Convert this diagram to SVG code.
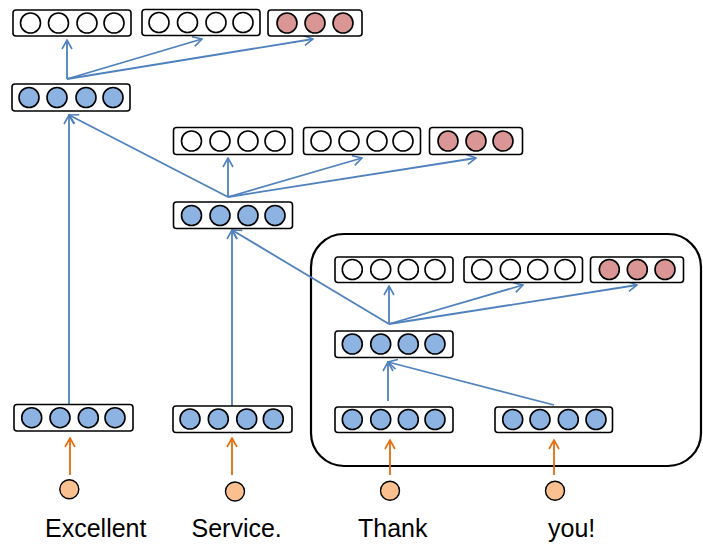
<svg xmlns="http://www.w3.org/2000/svg" width="703" height="544" viewBox="0 0 703 544">
<defs>
<style>
.box{fill:#fff;stroke:#000;stroke-width:1.6}
.w{fill:#fff;stroke:#000;stroke-width:1.6}
.b{fill:#8DB3E2;stroke:#000;stroke-width:1.6}
.r{fill:#D99694;stroke:#000;stroke-width:1.6}
.o{fill:#FAC090;stroke:#000;stroke-width:1.4}
.bl{stroke:#4F81BD;stroke-width:1.8;fill:none;marker-end:url(#ab)}
.ol{stroke:#E46C0A;stroke-width:1.8;fill:none;marker-end:url(#ao)}
.t{font-family:"Liberation Sans",Arial,sans-serif;font-size:25px;fill:#000}
</style>
<marker id="ab" viewBox="0 0 12 12" refX="11" refY="6" markerWidth="12" markerHeight="12" markerUnits="userSpaceOnUse" orient="auto">
<path d="M2,1 L11,6 L2,11" fill="none" stroke="#4F81BD" stroke-width="1.6"/>
</marker>
<marker id="ao" viewBox="0 0 12 12" refX="11" refY="6" markerWidth="12" markerHeight="12" markerUnits="userSpaceOnUse" orient="auto">
<path d="M2,1 L11,6 L2,11" fill="none" stroke="#E46C0A" stroke-width="1.6"/>
</marker>
</defs>
<rect width="703" height="544" fill="#fff"/>

<g id="group-frame">
<rect x="311" y="234" width="390" height="232" rx="33" ry="33" fill="none" stroke="#000" stroke-width="2.2"/>
</g>

<g id="connectors">
<line class="bl" x1="69" y1="404" x2="69" y2="115"/>
<line class="bl" x1="228" y1="197" x2="69" y2="115"/>
<line class="bl" x1="67" y1="79" x2="67" y2="40"/>
<line class="bl" x1="67" y1="79" x2="202" y2="39"/>
<line class="bl" x1="67" y1="79" x2="313" y2="39"/>
<line class="bl" x1="232" y1="406" x2="232" y2="230"/>
<line class="bl" x1="389" y1="324" x2="232" y2="230"/>
<line class="bl" x1="228" y1="197" x2="228" y2="158"/>
<line class="bl" x1="228" y1="197" x2="362" y2="158"/>
<line class="bl" x1="228" y1="197" x2="476" y2="158"/>
<line class="bl" x1="389" y1="324" x2="389" y2="286"/>
<line class="bl" x1="389" y1="324" x2="523" y2="285"/>
<line class="bl" x1="389" y1="324" x2="637" y2="285"/>
<line class="bl" x1="388" y1="401" x2="388" y2="362"/>
<line class="bl" x1="554" y1="405" x2="388" y2="362"/>
<line class="ol" x1="70" y1="475" x2="70" y2="438"/>
<line class="ol" x1="232" y1="475" x2="232" y2="438"/>
<line class="ol" x1="390" y1="475" x2="390" y2="440"/>
<line class="ol" x1="554" y1="475" x2="554" y2="440"/>
</g>

<g id="top-out1">
<rect class="box" x="13" y="10" width="118" height="26" rx="3"/>
<circle class="w" cx="30.5" cy="23" r="10"/><circle class="w" cx="58.5" cy="23" r="10"/><circle class="w" cx="87" cy="23" r="10"/><circle class="w" cx="114" cy="23" r="10"/>
</g>
<g id="top-out2">
<rect class="box" x="142" y="9.5" width="118" height="26" rx="3"/>
<circle class="w" cx="159" cy="22.5" r="10"/><circle class="w" cx="187.5" cy="22.5" r="10"/><circle class="w" cx="216" cy="22.5" r="10"/><circle class="w" cx="243" cy="22.5" r="10"/>
</g>
<g id="top-out3">
<rect class="box" x="268" y="10" width="94" height="26" rx="3"/>
<circle class="r" cx="287" cy="23" r="10"/><circle class="r" cx="315" cy="23" r="10"/><circle class="r" cx="343" cy="23" r="10"/>
</g>
<g id="top-hidden">
<rect class="box" x="12" y="84" width="118" height="27" rx="3"/>
<circle class="b" cx="29" cy="97.5" r="10"/><circle class="b" cx="57" cy="97.5" r="10"/><circle class="b" cx="86" cy="97.5" r="10"/><circle class="b" cx="113" cy="97.5" r="10"/>
</g>

<g id="mid-out1">
<rect class="box" x="173.5" y="127.5" width="119" height="27" rx="3"/>
<circle class="w" cx="191.5" cy="141" r="10"/><circle class="w" cx="220" cy="141" r="10"/><circle class="w" cx="248" cy="141" r="10"/><circle class="w" cx="275" cy="141" r="10"/>
</g>
<g id="mid-out2">
<rect class="box" x="303.5" y="127.5" width="117" height="27" rx="3"/>
<circle class="w" cx="321" cy="141" r="10"/><circle class="w" cx="349" cy="141" r="10"/><circle class="w" cx="377" cy="141" r="10"/><circle class="w" cx="403" cy="141" r="10"/>
</g>
<g id="mid-out3">
<rect class="box" x="429.5" y="127.5" width="93" height="27" rx="3"/>
<circle class="r" cx="448" cy="141" r="10"/><circle class="r" cx="476" cy="141" r="10"/><circle class="r" cx="503" cy="141" r="10"/>
</g>
<g id="mid-hidden">
<rect class="box" x="173.5" y="202" width="119" height="26.5" rx="3"/>
<circle class="b" cx="191.5" cy="215.5" r="10"/><circle class="b" cx="220" cy="215.5" r="10"/><circle class="b" cx="248" cy="215.5" r="10"/><circle class="b" cx="275" cy="215.5" r="10"/>
</g>

<g id="grp-out1">
<rect class="box" x="335" y="257" width="118" height="25.5" rx="3"/>
<circle class="w" cx="352.3" cy="269.5" r="10"/><circle class="w" cx="380.7" cy="269.5" r="10"/><circle class="w" cx="408.3" cy="269.5" r="10"/><circle class="w" cx="435" cy="269.5" r="10"/>
</g>
<g id="grp-out2">
<rect class="box" x="464" y="257" width="118.5" height="25.5" rx="3"/>
<circle class="w" cx="481.7" cy="269.5" r="10"/><circle class="w" cx="510.3" cy="269.5" r="10"/><circle class="w" cx="537.7" cy="269.5" r="10"/><circle class="w" cx="565" cy="269.5" r="10"/>
</g>
<g id="grp-out3">
<rect class="box" x="590.5" y="257" width="93" height="25.5" rx="3"/>
<circle class="r" cx="609.3" cy="269.5" r="10"/><circle class="r" cx="637.3" cy="269.5" r="10"/><circle class="r" cx="665" cy="269.5" r="10"/>
</g>
<g id="grp-hidden">
<rect class="box" x="335" y="331" width="118" height="26.5" rx="3"/>
<circle class="b" cx="352.3" cy="344" r="10"/><circle class="b" cx="380.7" cy="344" r="10"/><circle class="b" cx="408.3" cy="344" r="10"/><circle class="b" cx="435" cy="344" r="10"/>
</g>

<g id="leaf-excellent">
<rect class="box" x="14" y="404.5" width="119" height="26.5" rx="3"/>
<circle class="b" cx="31.7" cy="417.7" r="10"/><circle class="b" cx="60" cy="417.7" r="10"/><circle class="b" cx="88.3" cy="417.7" r="10"/><circle class="b" cx="115" cy="417.7" r="10"/>
</g>
<g id="leaf-service">
<rect class="box" x="173" y="406" width="119" height="26.5" rx="3"/>
<circle class="b" cx="190" cy="419" r="10"/><circle class="b" cx="218.3" cy="419" r="10"/><circle class="b" cx="246.7" cy="419" r="10"/><circle class="b" cx="273.3" cy="419" r="10"/>
</g>
<g id="leaf-thank">
<rect class="box" x="335" y="407" width="118" height="25.5" rx="3"/>
<circle class="b" cx="352.3" cy="419.5" r="10"/><circle class="b" cx="380.7" cy="419.5" r="10"/><circle class="b" cx="408.3" cy="419.5" r="10"/><circle class="b" cx="435" cy="419.5" r="10"/>
</g>
<g id="leaf-you">
<rect class="box" x="495" y="407" width="117.5" height="25.5" rx="3"/>
<circle class="b" cx="512.7" cy="419.5" r="10"/><circle class="b" cx="540" cy="419.5" r="10"/><circle class="b" cx="568.3" cy="419.5" r="10"/><circle class="b" cx="596" cy="419.5" r="10"/>
</g>

<g id="word-excellent">
<circle class="o" cx="69.3" cy="489.3" r="9.5"/>
<text class="t" x="45" y="537">Excellent</text>
</g>
<g id="word-service">
<circle class="o" cx="235" cy="491.5" r="9.5"/>
<text class="t" x="191.5" y="537">Service.</text>
</g>
<g id="word-thank">
<circle class="o" cx="390" cy="490.7" r="9.5"/>
<text class="t" x="358" y="537">Thank</text>
</g>
<g id="word-you">
<circle class="o" cx="555" cy="490.7" r="9.5"/>
<text class="t" x="548" y="537">you!</text>
</g>
</svg>
